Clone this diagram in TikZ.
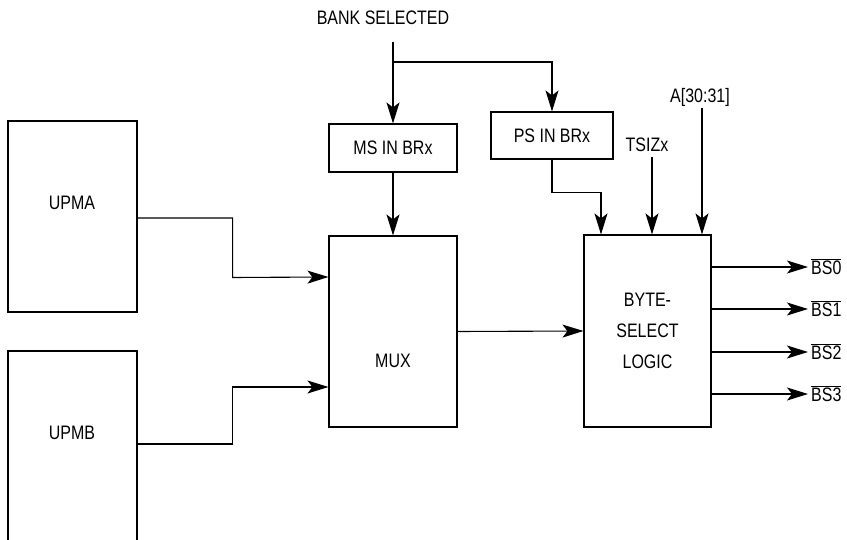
\documentclass[tikz,border=0pt]{standalone}
\usepackage{fontspec}
\setmainfont{Liberation Sans}[FakeStretch=0.82]
\usetikzlibrary{arrows.meta}
\begin{document}
\begin{tikzpicture}[x=1pt,y=-1pt,
  every node/.style={font=\fontsize{19.5}{23}\selectfont},
  box/.style={draw,line width=1.1pt,inner sep=0pt},
  lbl/.style={inner sep=1pt},
  arr/.style={line width=1.1pt,-{Stealth[length=21pt,width=13pt,inset=5pt]}},
  wire/.style={line width=1.1pt}]
\useasboundingbox (0,0) rectangle (847,540);
\clip (0,0) rectangle (847,540);
% boxes
\node[box,minimum width=129pt,minimum height=191pt] (upma) at (72.5,216.5) {};
\node[box,minimum width=129pt,minimum height=210pt] (upmb) at (72.5,456) {};
\node[box,minimum width=128pt,minimum height=48pt] (ms) at (393,148) {MS IN BRx};
\node[box,minimum width=122pt,minimum height=47pt] (ps) at (552,135.5) {PS IN BRx};
\node[box,minimum width=128pt,minimum height=191pt] (mux) at (393,331.5) {};
\node[box,minimum width=127pt,minimum height=192pt,align=center,
      font=\fontsize{19.5}{31}\selectfont] (bsl) at (647.5,331) {BYTE-\\SELECT\\LOGIC};
% labels
\node[lbl] (upmatxt) at (72,203) {UPMA};
\node[lbl] (upmbtxt) at (72,433) {UPMB};
\node[lbl] (muxtxt) at (393,361) {MUX};
\node[lbl] (bank) at (383,18) {BANK SELECTED};
\node[lbl] (tsiz) at (647,145) {TSIZx};
\node[lbl] (addr) at (700,97) {A[30:31]};
\node[lbl,anchor=west,inner sep=3pt] (bs0) at (808,267) {$\overline{\mbox{BS0}}$};
\node[lbl,anchor=west,inner sep=3pt] (bs1) at (808,309) {$\overline{\mbox{BS1}}$};
\node[lbl,anchor=west,inner sep=3pt] (bs2) at (808,352) {$\overline{\mbox{BS2}}$};
\node[lbl,anchor=west,inner sep=3pt] (bs3) at (808,394) {$\overline{\mbox{BS3}}$};
% free ends
\coordinate (bk) at (393,42);
\coordinate (br) at (393,62);
\coordinate (ts) at (652,157);
\coordinate (ad) at (702,108);
% connectors
\draw[arr] (bk) -- (ms.north);
\draw[arr] (br) -| (ps.north);
\draw[arr] (ms.south) -- (mux.north);
\draw[arr] (ps.south) -- ++(0,33) -| ([xshift=-46.5pt]bsl.north);
\draw[arr] (ts) -- ([xshift=4.5pt]bsl.north);
\draw[arr] (ad) -- ([xshift=54.5pt]bsl.north);
\draw[arr] ([yshift=-1.5pt]upma.east) -| ++(95,59.5) -- ([yshift=54.5pt]mux.west);
\draw[arr] (upmb.east |- 0,444) -| ++(95,-57) -- ([yshift=-55.5pt]mux.west);
\draw[arr] (mux.east) -- (bsl.west);
\draw[arr] ([yshift=64pt]bsl.east) -- (bs0.west);
\draw[arr] ([yshift=22pt]bsl.east) -- (bs1.west);
\draw[arr] ([yshift=-21pt]bsl.east) -- (bs2.west);
\draw[arr] ([yshift=-63pt]bsl.east) -- (bs3.west);
\end{tikzpicture}
\end{document}
